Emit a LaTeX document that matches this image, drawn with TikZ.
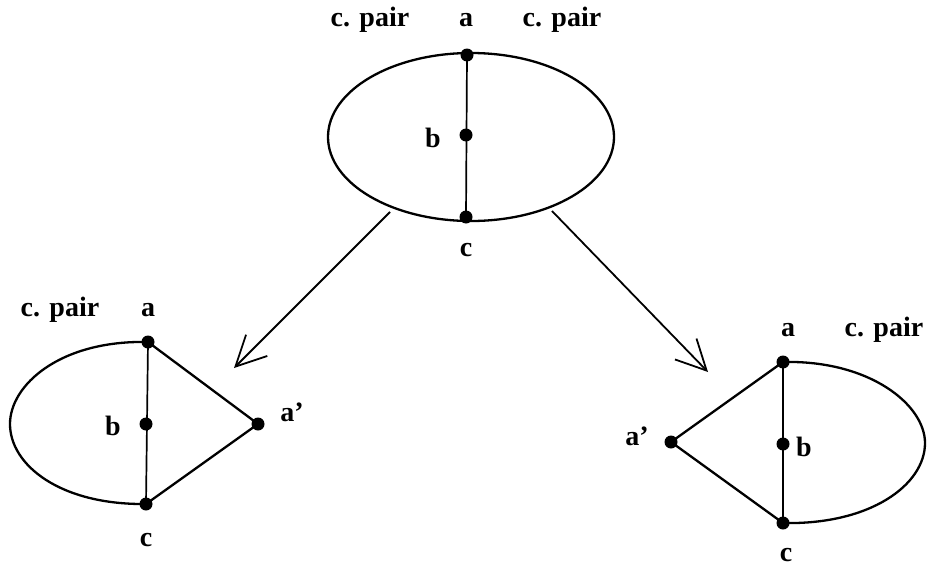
\documentclass[tikz,border=0pt]{standalone}
\usepackage{fontspec}
\setmainfont{Liberation Serif}
\usetikzlibrary{arrows.meta}
\begin{document}
\begin{tikzpicture}[x=1pt,y=-1pt,
  dot/.style={circle,fill=black,inner sep=0pt,minimum size=13pt},
  lbl/.style={font=\fontsize{28}{30}\selectfont\bfseries,inner sep=0pt,anchor=center},
  curve/.style={line width=2.3pt},
  chord/.style={line width=1.7pt},
  arr/.style={line width=1.8pt,-{Straight Barb[length=30pt,width=30pt,line width=1.8pt]}}]
\useasboundingbox (0,0) rectangle (930,570);
% top figure
\draw[curve] (471,137) ellipse [x radius=143, y radius=84];
\node[dot] (ta) at (467,55) {};
\node[dot] (tb) at (466,135) {};
\node[dot] (tc) at (466,217) {};
\draw[chord] (ta.center) -- (tc.center);
\node[lbl] (tl1) at (370,20) {c. pair};
\node[lbl] (tla) at (466,20) {a};
\node[lbl] (tl2) at (562,20) {c. pair};
\node[lbl] (tlb) at (433,138) {b};
\node[lbl] (tlc) at (466,250) {c};
\coordinate (s1) at (390,212);
\coordinate (e1) at (234,368);
\coordinate (s2) at (552,211);
\coordinate (e2) at (708,372);
\draw[arr] (s1) -- (e1);
\draw[arr] (s2) -- (e2);
% left figure
\node[dot] (la) at (148,342) {};
\node[dot] (lb) at (146,424) {};
\node[dot] (lc) at (146,504) {};
\node[dot] (lp) at (258,424) {};
\draw[curve] (la.center) .. controls (60,340) and (10,385) .. (10,424) .. controls (10,465) and (60,505) .. (lc.center);
\draw[chord] (la.center) -- (lc.center);
\draw[curve] (la.center) -- (lp.center) -- (lc.center);
\node[lbl] (ll1) at (60,310) {c. pair};
\node[lbl] (lla) at (148,310) {a};
\node[lbl] (llb) at (113,426) {b};
\node[lbl] (llp) at (292,412) {a'};
\node[lbl] (llc) at (146,540) {c};
% right figure
\node[dot] (ra) at (783,362) {};
\node[dot] (rb) at (783,444) {};
\node[dot] (rc) at (783,523) {};
\node[dot] (rp) at (671,442) {};
\draw[curve] (ra.center) .. controls (870,360) and (925,405) .. (925,443) .. controls (925,485) and (870,525) .. (rc.center);
\draw[chord] (ra.center) -- (rc.center);
\draw[curve] (ra.center) -- (rp.center) -- (rc.center);
\node[lbl] (rla) at (788,330) {a};
\node[lbl] (rl1) at (884,330) {c. pair};
\node[lbl] (rlb) at (804,447) {b};
\node[lbl] (rlp) at (637,436) {a'};
\node[lbl] (rlc) at (786,555) {c};
\end{tikzpicture}
\end{document}
